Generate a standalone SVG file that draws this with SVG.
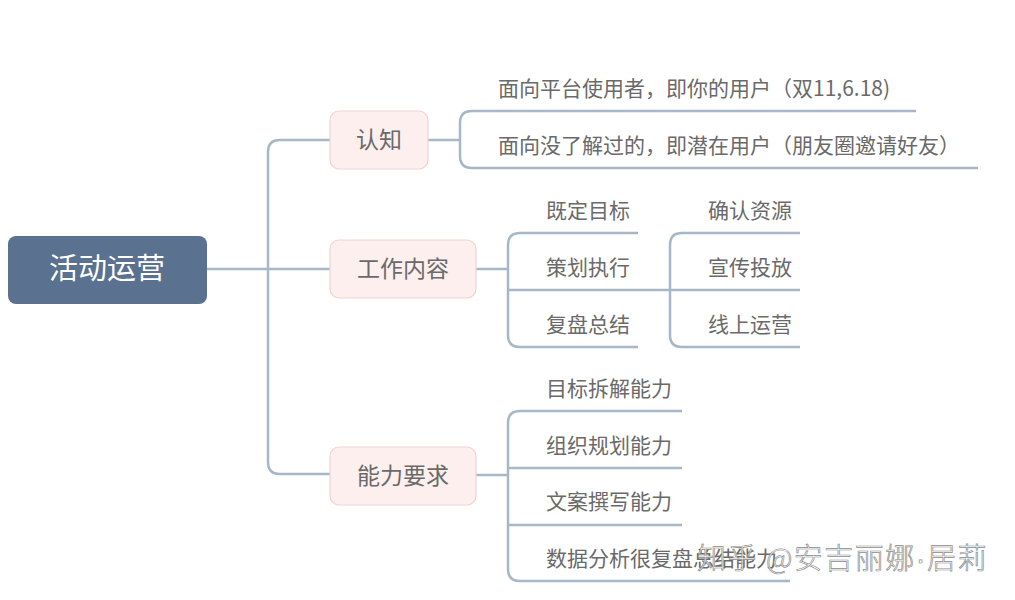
<svg xmlns="http://www.w3.org/2000/svg" width="1015" height="600" viewBox="0 0 1015 600">
<style>
text{font-family:"Microsoft YaHei","Noto Sans CJK SC","Noto Sans",sans-serif}
.ln{fill:none;stroke:#a6b7c7;stroke-width:2.5;stroke-linecap:butt}
.sub rect{fill:#fcefee;stroke:#f0d3cf;stroke-width:1.2}
.sub text{font-size:23px;fill:#6a6a6a;text-anchor:middle}
.leaf{font-size:21px;fill:#6a6a6a}
.wm{font-size:29px;font-weight:300;letter-spacing:1.5px;fill:#ffffff;stroke:#8c8c8c;stroke-width:0.7;fill-opacity:0.9}
</style>
<rect width="1015" height="600" fill="#ffffff"/>
<g id="connectors">
<path class="ln" d="M207 269H330"/>
<path class="ln" d="M330 140H280Q268 140 268 152V462Q268 474 280 474H330"/>
<path class="ln" d="M428 140H460"/>
<path class="ln" d="M916 111H472Q460 111 460 123V156Q460 168 472 168H978"/>
<path class="ln" d="M476 269H508"/>
<path class="ln" d="M638 233H520Q508 233 508 245V335Q508 347 520 347H638"/>
<path class="ln" d="M508 290H800"/>
<path class="ln" d="M800 233H682Q670 233 670 245V335Q670 347 682 347H800"/>
<path class="ln" d="M476 475H508"/>
<path class="ln" d="M682 411H520Q508 411 508 423V569Q508 581 520 581H790"/>
<path class="ln" d="M508 468H682"/>
<path class="ln" d="M508 525H682"/>
</g>
<g id="root">
<rect x="8" y="236" width="199" height="68" rx="8" fill="#5a7190"/>
<text x="107" y="279" font-size="29" fill="#ffffff" text-anchor="middle">活动运营</text>
</g>
<g id="n-renzhi" class="sub">
<rect x="330" y="111" width="98" height="58" rx="9"/>
<text x="379" y="148">认知</text>
</g>
<g id="n-gongzuo" class="sub">
<rect x="330" y="240" width="146" height="58" rx="9"/>
<text x="403" y="277">工作内容</text>
</g>
<g id="n-nengli" class="sub">
<rect x="330" y="447" width="146" height="58" rx="9"/>
<text x="403" y="484">能力要求</text>
</g>
<g id="l-1"><text class="leaf" x="498" y="96">面向平台使用者，即你的用户（双11,6.18)</text></g>
<g id="l-2"><text class="leaf" x="498" y="153">面向没了解过的，即潜在用户（朋友圈邀请好友）</text></g>
<g id="l-3"><text class="leaf" x="546" y="218">既定目标</text></g>
<g id="l-4"><text class="leaf" x="546" y="275">策划执行</text></g>
<g id="l-5"><text class="leaf" x="546" y="332">复盘总结</text></g>
<g id="l-6"><text class="leaf" x="708" y="218">确认资源</text></g>
<g id="l-7"><text class="leaf" x="708" y="275">宣传投放</text></g>
<g id="l-8"><text class="leaf" x="708" y="332">线上运营</text></g>
<g id="l-9"><text class="leaf" x="546" y="396">目标拆解能力</text></g>
<g id="l-10"><text class="leaf" x="546" y="453">组织规划能力</text></g>
<g id="l-11"><text class="leaf" x="546" y="509">文案撰写能力</text></g>
<g id="l-12"><text class="leaf" x="546" y="566">数据分析很复盘总结能力</text></g>
<text class="wm" x="697" y="569">知乎 @安吉丽娜<tspan font-family="Liberation Sans, sans-serif">·</tspan>居莉</text>
</svg>
